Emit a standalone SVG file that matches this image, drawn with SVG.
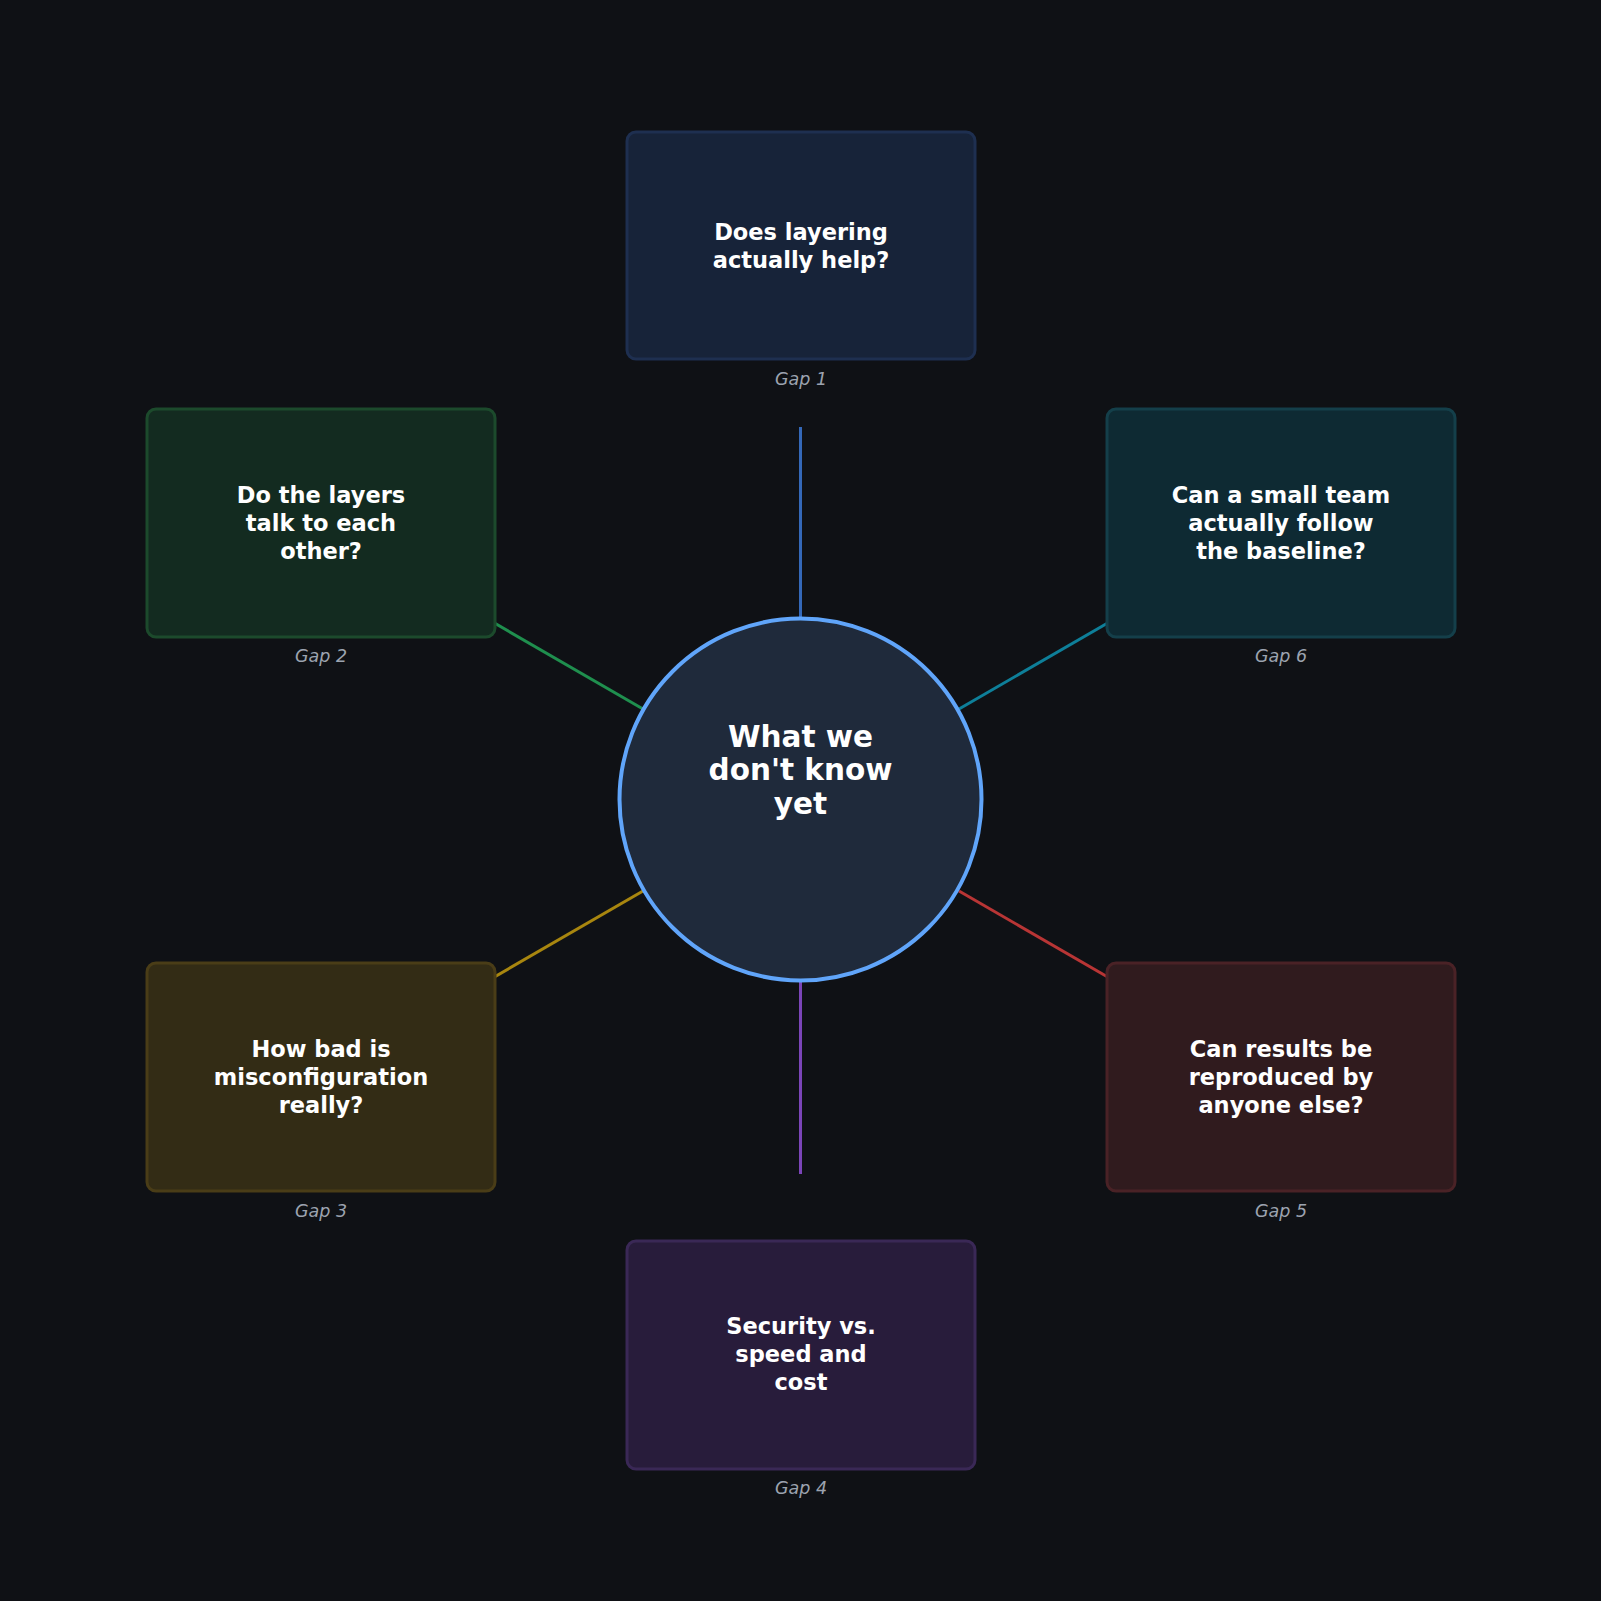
<svg xmlns="http://www.w3.org/2000/svg" width="1601" height="1601" viewBox="0 0 1601 1601">
<style>
.t{font-family:"DejaVu Sans",sans-serif;font-weight:bold;font-size:22.5px;fill:#ffffff;text-anchor:middle}
.g{font-family:"DejaVu Sans",sans-serif;font-style:italic;font-size:17.5px;fill:#9ca3af;text-anchor:middle}
.c{font-family:"DejaVu Sans",sans-serif;font-weight:bold;font-size:29.5px;fill:#ffffff;text-anchor:middle}
rect{stroke-width:3}
line{stroke-width:3}
</style>
<rect width="1601" height="1601" fill="#0f1115"/>
<g id="connectors">
<line x1="800.5" y1="427" x2="800.5" y2="619" stroke="#3468b8"/>
<line x1="477" y1="613" x2="643" y2="709" stroke="#1f8f4e"/>
<line x1="1125" y1="613" x2="959" y2="709" stroke="#0e7f99"/>
<line x1="477" y1="987" x2="643" y2="891" stroke="#a8860f"/>
<line x1="1125" y1="987" x2="959" y2="891" stroke="#b83535"/>
<line x1="800.5" y1="982" x2="800.5" y2="1174" stroke="#7b45b8"/>
</g>
<g id="center">
<circle cx="800.5" cy="799.5" r="181" fill="#1f2a3b" stroke="#60a5fa" stroke-width="4"/>
<text class="c"><tspan x="800.5" y="747">What we</tspan><tspan x="800.5" y="780">don't know</tspan><tspan x="800.5" y="814">yet</tspan></text>
</g>
<g id="gap1">
<rect x="627" y="132" width="348" height="227" rx="9" fill="#172339" stroke="#1e2f50"/>
<text class="t"><tspan x="801" y="240">Does layering</tspan><tspan x="801" y="268">actually help?</tspan></text>
<text class="g" x="801" y="385">Gap 1</text>
</g>
<g id="gap2">
<rect x="147" y="409" width="348" height="228" rx="9" fill="#132b20" stroke="#1c4a2c"/>
<text class="t"><tspan x="321" y="503">Do the layers</tspan><tspan x="321" y="531">talk to each</tspan><tspan x="321" y="559">other?</tspan></text>
<text class="g" x="321" y="662">Gap 2</text>
</g>
<g id="gap6">
<rect x="1107" y="409" width="348" height="228" rx="9" fill="#0e2a33" stroke="#143f4a"/>
<text class="t"><tspan x="1281" y="503">Can a small team</tspan><tspan x="1281" y="531">actually follow</tspan><tspan x="1281" y="559">the baseline?</tspan></text>
<text class="g" x="1281" y="662">Gap 6</text>
</g>
<g id="gap3">
<rect x="147" y="963" width="348" height="228" rx="9" fill="#332c15" stroke="#4a3d17"/>
<text class="t"><tspan x="321" y="1057">How bad is</tspan><tspan x="321" y="1085">misconfiguration</tspan><tspan x="321" y="1113">really?</tspan></text>
<text class="g" x="321" y="1217">Gap 3</text>
</g>
<g id="gap5">
<rect x="1107" y="963" width="348" height="228" rx="9" fill="#301b1e" stroke="#4a2226"/>
<text class="t"><tspan x="1281" y="1057">Can results be</tspan><tspan x="1281" y="1085">reproduced by</tspan><tspan x="1281" y="1113">anyone else?</tspan></text>
<text class="g" x="1281" y="1217">Gap 5</text>
</g>
<g id="gap4">
<rect x="627" y="1241" width="348" height="228" rx="9" fill="#281c3b" stroke="#3a2856"/>
<text class="t"><tspan x="801" y="1334">Security vs.</tspan><tspan x="801" y="1362">speed and</tspan><tspan x="801" y="1390">cost</tspan></text>
<text class="g" x="801" y="1494">Gap 4</text>
</g>
</svg>
